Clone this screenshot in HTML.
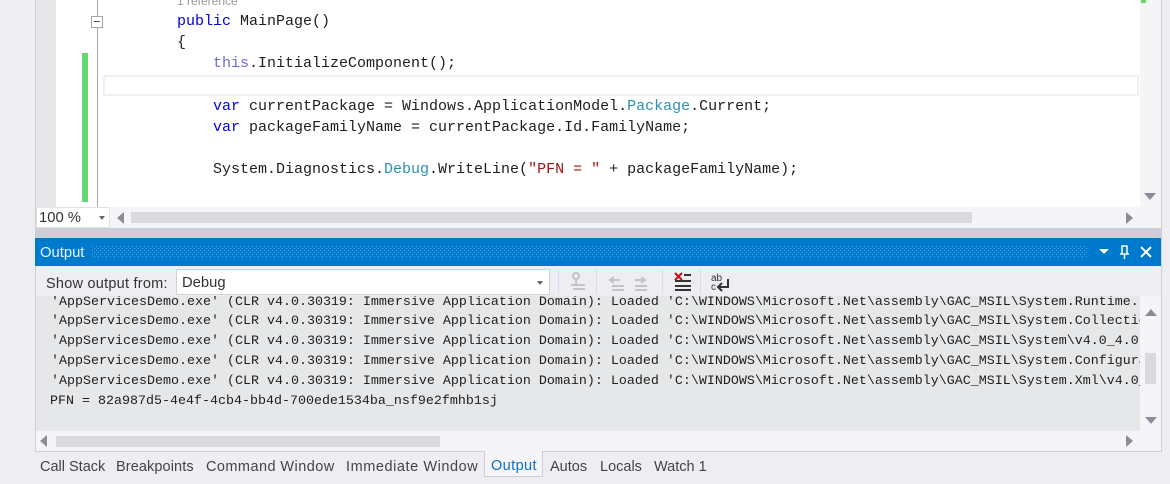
<!DOCTYPE html>
<html><head><meta charset="utf-8"><style>
html,body{margin:0;padding:0;width:1170px;height:484px;overflow:hidden;background:#eeeef2}
div{position:absolute;box-sizing:border-box}
.c{font:15px/21px "Liberation Mono",monospace;color:#1e1e1e;white-space:pre;left:0}
.o{font:13.333px/20px "Liberation Mono",monospace;color:#1e1e1e;white-space:pre;left:51px;width:1089px;overflow:hidden}
.u{font:14.5px/20px "Liberation Sans",sans-serif;color:#444;white-space:pre}
.k{color:#0000e0}.t{color:#2b91af}.s{color:#a31515}
</style></head><body>
<div style="left:35px;top:0;width:1127px;height:452px;background:#f5f5f7;border-left:1px solid #cfcfd6;border-right:1px solid #cfcfd6"></div>
<div style="left:36px;top:0;width:20px;height:207px;background:#e6e7e8"></div>
<div style="left:56px;top:0;width:1084px;height:207px;background:#fff"></div>
<div style="left:82px;top:53px;width:6px;height:149px;background:#66d96e"></div>
<div style="left:97px;top:0;width:1px;height:207px;background:#a5a5a5"></div>
<div style="left:91px;top:16px;width:12px;height:12px;background:#fff;border:1px solid #a5a5a5"></div>
<div style="left:94px;top:21px;width:6px;height:1px;background:#555"></div>
<div style="left:103px;top:75px;width:1036px;height:21px;border:2px solid #f0f0f0"></div>
<div style="left:1141px;top:0;width:5px;height:3px;background:#66d96e"></div>

<div style="left:177px;top:-6px;font:12px/14px 'Liberation Sans',sans-serif;color:#999;white-space:pre">1 reference</div>
<div class="c" style="left:177px;top:11px"><span class="k">public</span> MainPage()</div>
<div class="c" style="left:177px;top:32px">{</div>
<div class="c" style="left:213px;top:53px"><span style="color:#6a6ad0">this</span>.InitializeComponent();</div>
<div class="c" style="left:213px;top:96px"><span class="k">var</span> currentPackage = Windows.ApplicationModel.<span class="t">Package</span>.Current;</div>
<div class="c" style="left:213px;top:117px"><span class="k">var</span> packageFamilyName = currentPackage.Id.FamilyName;</div>
<div class="c" style="left:213px;top:159px">System.Diagnostics.<span class="t">Debug</span>.WriteLine(<span class="s">"PFN = "</span> + packageFamilyName);</div>

<div style="left:1144px;top:193px;border-left:6px solid transparent;border-right:6px solid transparent;border-top:7px solid #8c8c98"></div>
<div style="left:36px;top:207px;width:74px;height:21px;background:#fff;border:1px solid #e2e2e8;font:14.8px/20px 'Liberation Sans',sans-serif;color:#333;padding-left:2px">100 %</div>
<div style="left:99px;top:216px;border-left:3.5px solid transparent;border-right:3.5px solid transparent;border-top:4px solid #666"></div>
<div style="left:117px;top:212px;border-top:6px solid transparent;border-bottom:6px solid transparent;border-right:7px solid #8c8c98"></div>
<div style="left:131px;top:212px;width:841px;height:11px;background:#d9d9e0"></div>
<div style="left:1126px;top:212px;border-top:6px solid transparent;border-bottom:6px solid transparent;border-left:7px solid #8c8c98"></div>
<div style="left:35px;top:228px;width:1127px;height:10px;background:#ccced8"></div>

<div style="left:35px;top:238px;width:1126px;height:28px;background:#007acc"></div>
<svg style="position:absolute;left:92px;top:246px" width="996" height="12"><defs><pattern id="d" width="4" height="4" patternUnits="userSpaceOnUse"><rect x="0" y="0" width="1" height="1" fill="#59a8dd"/><rect x="2" y="2" width="1" height="1" fill="#59a8dd"/></pattern></defs><rect width="996" height="12" fill="url(#d)"/></svg>
<div style="left:40px;top:243px;font:14.8px/20px 'Liberation Sans',sans-serif;color:#e8f4fc">Output</div>
<div style="left:1099px;top:249px;border-left:5px solid transparent;border-right:5px solid transparent;border-top:5px solid #fff"></div>
<svg style="position:absolute;left:1118px;top:244px" width="36" height="16"><path d="M4 2h5v8H4zM6.500 10v5M2 10h9" fill="none" stroke="#fff" stroke-width="1.500"/><path d="M23 3l10 10M33 3L23 13" stroke="#fff" stroke-width="2"/></svg>

<div style="left:36px;top:266px;width:1125px;height:30px;background:#eeeef2"></div>
<div class="u" style="left:46px;top:274px;color:#333;letter-spacing:.24px">Show output from:</div>
<div style="left:176px;top:269px;width:374px;height:26px;background:#fff;border:1px solid #d8d0d0;font:14.8px/27px 'Liberation Sans',sans-serif;color:#333;padding-left:5px">Debug</div>
<div style="left:537px;top:281px;border-left:3.500px solid transparent;border-right:3.500px solid transparent;border-top:4px solid #666"></div>
<div style="left:558px;top:270px;width:1px;height:24px;background:#dcdce2"></div>
<div style="left:596px;top:270px;width:1px;height:24px;background:#dcdce2"></div>
<div style="left:662px;top:270px;width:1px;height:24px;background:#dcdce2"></div>
<div style="left:700px;top:270px;width:1px;height:24px;background:#dcdce2"></div>
<svg style="position:absolute;left:565px;top:270px" width="170" height="24">
<g fill="none" stroke="#c4c4c8" stroke-width="2"><circle cx="11" cy="6" r="3"/><path d="M11 10v4M6 15h14M8 19h12"/><path d="M49 7l-4 3 4 3M46 10h9M47 16h12M47 20h12"/><path d="M76 7l4 3-4 3M70 10h9M70 16h12M70 20h12"/></g>
<path d="M110 11h16M110 16h16M110 20h16" stroke="#333" stroke-width="2"/><path d="M110 3l7 7M117 3l-7 7" stroke="#c01010" stroke-width="2"/><path d="M119 5h7" stroke="#333" stroke-width="2"/>
<path d="M163 9v8h-9M157 13l-4 4 4 4" fill="none" stroke="#333" stroke-width="2"/>
<text x="146" y="11" font-family="Liberation Sans" font-size="10" fill="#333">ab</text><text x="146" y="20" font-family="Liberation Sans" font-size="10" fill="#333">c</text></svg>

<div style="left:36px;top:296px;width:1104px;height:135px;background:#e6e7e8;overflow:hidden"></div>
<div style="left:36px;top:296px;width:1104px;height:135px;overflow:hidden">
<div class="o" style="left:15px;top:-6px;padding-top:3px">'AppServicesDemo.exe' (CLR v4.0.30319: Immersive Application Domain): Loaded 'C:\WINDOWS\Microsoft.Net\assembly\GAC_MSIL\System.Runtime.InteropServices</div>
<div class="o" style="left:15px;top:16px">'AppServicesDemo.exe' (CLR v4.0.30319: Immersive Application Domain): Loaded 'C:\WINDOWS\Microsoft.Net\assembly\GAC_MSIL\System.Collections</div>
<div class="o" style="left:15px;top:36px">'AppServicesDemo.exe' (CLR v4.0.30319: Immersive Application Domain): Loaded 'C:\WINDOWS\Microsoft.Net\assembly\GAC_MSIL\System\v4.0_4.0.0.0</div>
<div class="o" style="left:15px;top:56px">'AppServicesDemo.exe' (CLR v4.0.30319: Immersive Application Domain): Loaded 'C:\WINDOWS\Microsoft.Net\assembly\GAC_MSIL\System.Configuration</div>
<div class="o" style="left:15px;top:76px">'AppServicesDemo.exe' (CLR v4.0.30319: Immersive Application Domain): Loaded 'C:\WINDOWS\Microsoft.Net\assembly\GAC_MSIL\System.Xml\v4.0_4.0</div>
<div class="o" style="left:14px;top:96px">PFN = 82a987d5-4e4f-4cb4-bb4d-700ede1534ba_nsf9e2fmhb1sj</div>
</div>

<div style="left:1145px;top:353px;width:11px;height:31px;background:#d9d9e0"></div>
<div style="left:1145px;top:309px;border-left:6px solid transparent;border-right:6px solid transparent;border-bottom:7px solid #8c8c98"></div>
<div style="left:1145px;top:417px;border-left:6px solid transparent;border-right:6px solid transparent;border-top:7px solid #8c8c98"></div>
<div style="left:40px;top:435px;border-top:6px solid transparent;border-bottom:6px solid transparent;border-right:7px solid #8c8c98"></div>
<div style="left:56px;top:436px;width:384px;height:11px;background:#d9d9e0"></div>
<div style="left:1126px;top:435px;border-top:6px solid transparent;border-bottom:6px solid transparent;border-left:7px solid #8c8c98"></div>

<div style="left:0;top:452px;width:1170px;height:32px;background:#eeeef2"></div>
<div style="left:35px;top:451px;width:1127px;height:1px;background:#cfcfd6"></div>
<div style="left:484px;top:451px;width:59px;height:26px;background:#f5f5f7;border:1px solid #cfcfd6;border-top:0"></div>
<div class="u" style="left:40px;top:457px">Call Stack</div>
<div class="u" style="left:116px;top:457px;letter-spacing:.1px">Breakpoints</div>
<div class="u" style="left:206px;top:457px;letter-spacing:.44px">Command Window</div>
<div class="u" style="left:346px;top:457px;letter-spacing:.56px">Immediate Window</div>
<div class="u" style="left:491px;top:456px;color:#0e70c0;letter-spacing:.4px">Output</div>
<div class="u" style="left:550px;top:457px">Autos</div>
<div class="u" style="left:600px;top:457px">Locals</div>
<div class="u" style="left:654px;top:457px">Watch 1</div>
</body></html>
